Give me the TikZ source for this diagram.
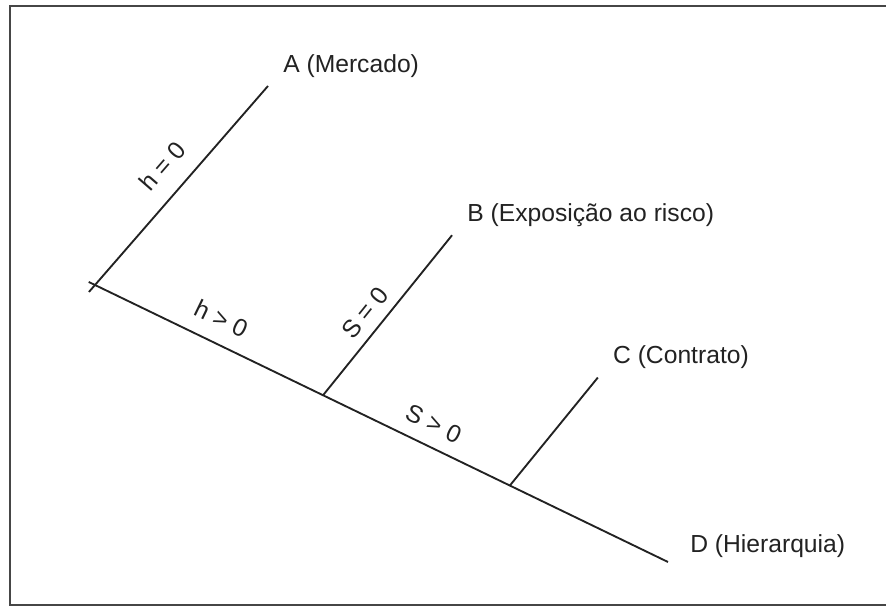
\documentclass[tikz,border=0pt]{standalone}
\usepackage{fontspec}
\setmainfont{Liberation Sans}
\usepackage{tikz}
\usetikzlibrary{calc,positioning}
\definecolor{ink}{RGB}{34,34,34}
\definecolor{rim}{RGB}{70,70,70}
\tikzset{
  branch/.style={draw=ink, line width=1.4pt},
  leaf/.style={anchor=west, text=ink, font=\fontsize{18.5}{22}\selectfont, inner sep=0pt},
  cond/.style={sloped, text=ink, font=\fontsize{18.5}{22}\selectfont, inner sep=0pt},
  frame/.style={draw=rim, line width=2.2pt}
}

\begin{document}
\begin{tikzpicture}[x=0.75pt, y=-0.75pt]
  \clip (0,0) rectangle (886,609);
  \draw[frame] (10,6) rectangle (900,605);

  % ramos da arvore
  \coordinate (o) at (95,285);
  \coordinate (A) at (268,86);
  \coordinate (D) at (668,562);
  \coordinate (b) at ($(o)!0.398!(D)$);
  \coordinate (c) at ($(o)!0.724!(D)$);
  \coordinate (B) at ($(b)+(129,-160)$);
  \coordinate (C) at ($(c)+(88,-108)$);

  \node[leaf] (mercado) at ($(A)+(15,-20)$) {A (Mercado)};
  \node[leaf] (risco) at ($(B)+(15,-20)$) {B (Exposição ao risco)};
  \node[leaf] (contrato) at ($(C)+(15,-20)$) {C (Contrato)};
  \node[leaf] (hierarquia) at ($(D)+(22,-16)$) {D (Hierarquia)};

  \draw[branch] ($(o)!-0.035!(A)$) -- node[cond, above=13pt, pos=0.524] (hzero) {h = 0} (A);
  \draw[branch] ($(o)!-0.011!(D)$) -- node[cond, above=11pt, pos=0.52] (hpos) {h > 0} (b)
    -- node[cond, above=9.5pt, pos=0.54] (spos) {S > 0} (c) -- (D);
  \draw[branch] (b) -- node[cond, above=7pt, pos=0.44] (szero) {S = 0} (B);
  \draw[branch] (c) -- (C);
\end{tikzpicture}
\end{document}
